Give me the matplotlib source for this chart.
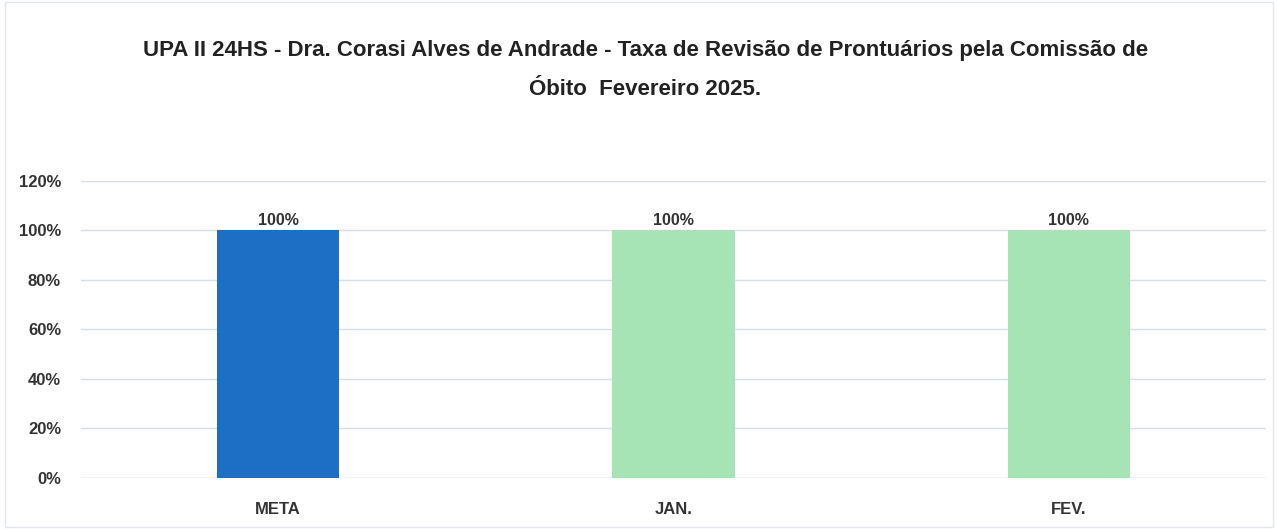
import matplotlib.pyplot as plt
from matplotlib import font_manager

categories = ['META', 'JAN.', 'FEV.']
values = [100, 100, 100]
bar_colors = ['#1d6fc6', '#a6e4b5', '#a6e4b5']
yticks = [0, 20, 40, 60, 80, 100, 120]

names = {f.name for f in font_manager.fontManager.ttflist}
family = 'Liberation Sans Narrow' if 'Liberation Sans Narrow' in names else 'Liberation Sans'
plt.rcParams['font.family'] = [family, 'DejaVu Sans']

fig = plt.figure(figsize=(12.78, 5.29), dpi=100)
ax = fig.add_axes([0.063, 0.0964, 0.928, 0.5616])

x = range(len(categories))
bars = ax.bar(x, values, width=0.31, color=bar_colors, zorder=3)

for xi, v in zip(x, values):
    ax.text(xi, v + 1, f'{v}%', ha='center', va='bottom', fontsize=11.5,
            fontweight='bold', color='#333333')

ax.set_xlim(-0.5, 2.5)
ax.set_ylim(0, 120)
ax.set_yticks(yticks)
ax.set_yticklabels([f'{t}%' for t in yticks], fontsize=12, fontweight='bold', color='#333333')
ax.set_xticks(list(x))
ax.set_xticklabels(categories, fontsize=12, fontweight='bold', color='#333333')
ax.tick_params(length=0, pad=14)
ax.tick_params(axis='x', pad=17)

ax.grid(axis='y', color='#d6dee6', linewidth=1, zorder=0)
for s in ax.spines.values():
    s.set_visible(False)
ax.axhline(0, color='#d6dee6', linewidth=1, zorder=2)

fig.text(0.505, 0.905, 'UPA II 24HS - Dra. Corasi Alves de Andrade - Taxa de Revisão de Prontuários pela Comissão de',
         ha='center', va='center', fontsize=16, fontweight='bold', color='#222222')
fig.text(0.505, 0.83, 'Óbito  Fevereiro 2025.',
         ha='center', va='center', fontsize=16, fontweight='bold', color='#222222')

fig.patches.append(plt.Rectangle((0.004, 0.004), 0.992, 0.992, transform=fig.transFigure,
                                 fill=False, edgecolor='#e4e8ec', linewidth=1))

fig.savefig('out.png', dpi=100, facecolor='white')
